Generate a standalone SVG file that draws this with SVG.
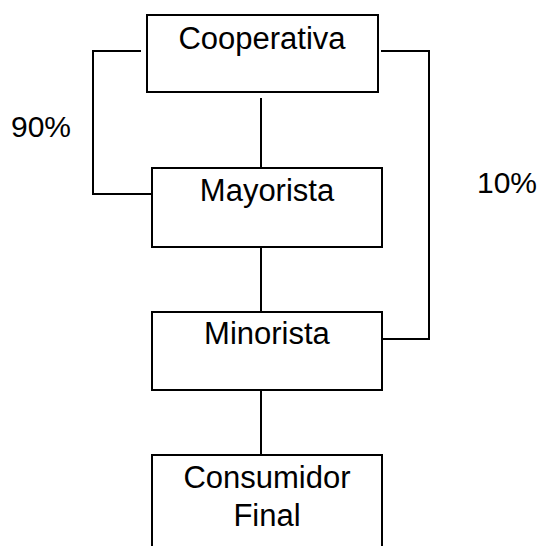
<svg xmlns="http://www.w3.org/2000/svg" width="541" height="546" viewBox="0 0 541 546">
  <style>
    .box { fill: #ffffff; stroke: #000000; stroke-width: 2; }
    .link { fill: none; stroke: #000000; stroke-width: 2; }
    .label { font-family: "Liberation Sans", Arial, sans-serif; font-size: 31px; fill: #000000; text-anchor: middle; }
    .pct { font-family: "Liberation Sans", Arial, sans-serif; font-size: 30px; fill: #000000; }
  </style>
  <rect width="541" height="546" fill="#ffffff"/>

  <g id="connectors">
    <path class="link" d="M141,51 H93 V194 H154"/>
    <path class="link" d="M381,51 H429 V339 H381"/>
    <path class="link" d="M261,98 V168"/>
    <path class="link" d="M261,243 V312"/>
    <path class="link" d="M261,387 V455"/>
  </g>

  <g id="cooperativa">
    <rect class="box" x="147" y="15" width="231" height="77"/>
    <text class="label" x="262" y="49">Cooperativa</text>
  </g>

  <g id="mayorista">
    <rect class="box" x="152" y="168" width="230" height="79"/>
    <text class="label" x="267" y="201">Mayorista</text>
  </g>

  <g id="minorista">
    <rect class="box" x="152" y="312" width="230" height="78"/>
    <text class="label" x="267" y="344">Minorista</text>
  </g>

  <g id="consumidor-final">
    <rect class="box" x="152" y="455" width="230" height="100"/>
    <text class="label" x="267" y="488">Consumidor</text>
    <text class="label" x="267" y="526">Final</text>
  </g>

  <g id="shares">
    <text class="pct" x="11" y="137">90%</text>
    <text class="pct" x="477" y="193">10%</text>
  </g>
</svg>
